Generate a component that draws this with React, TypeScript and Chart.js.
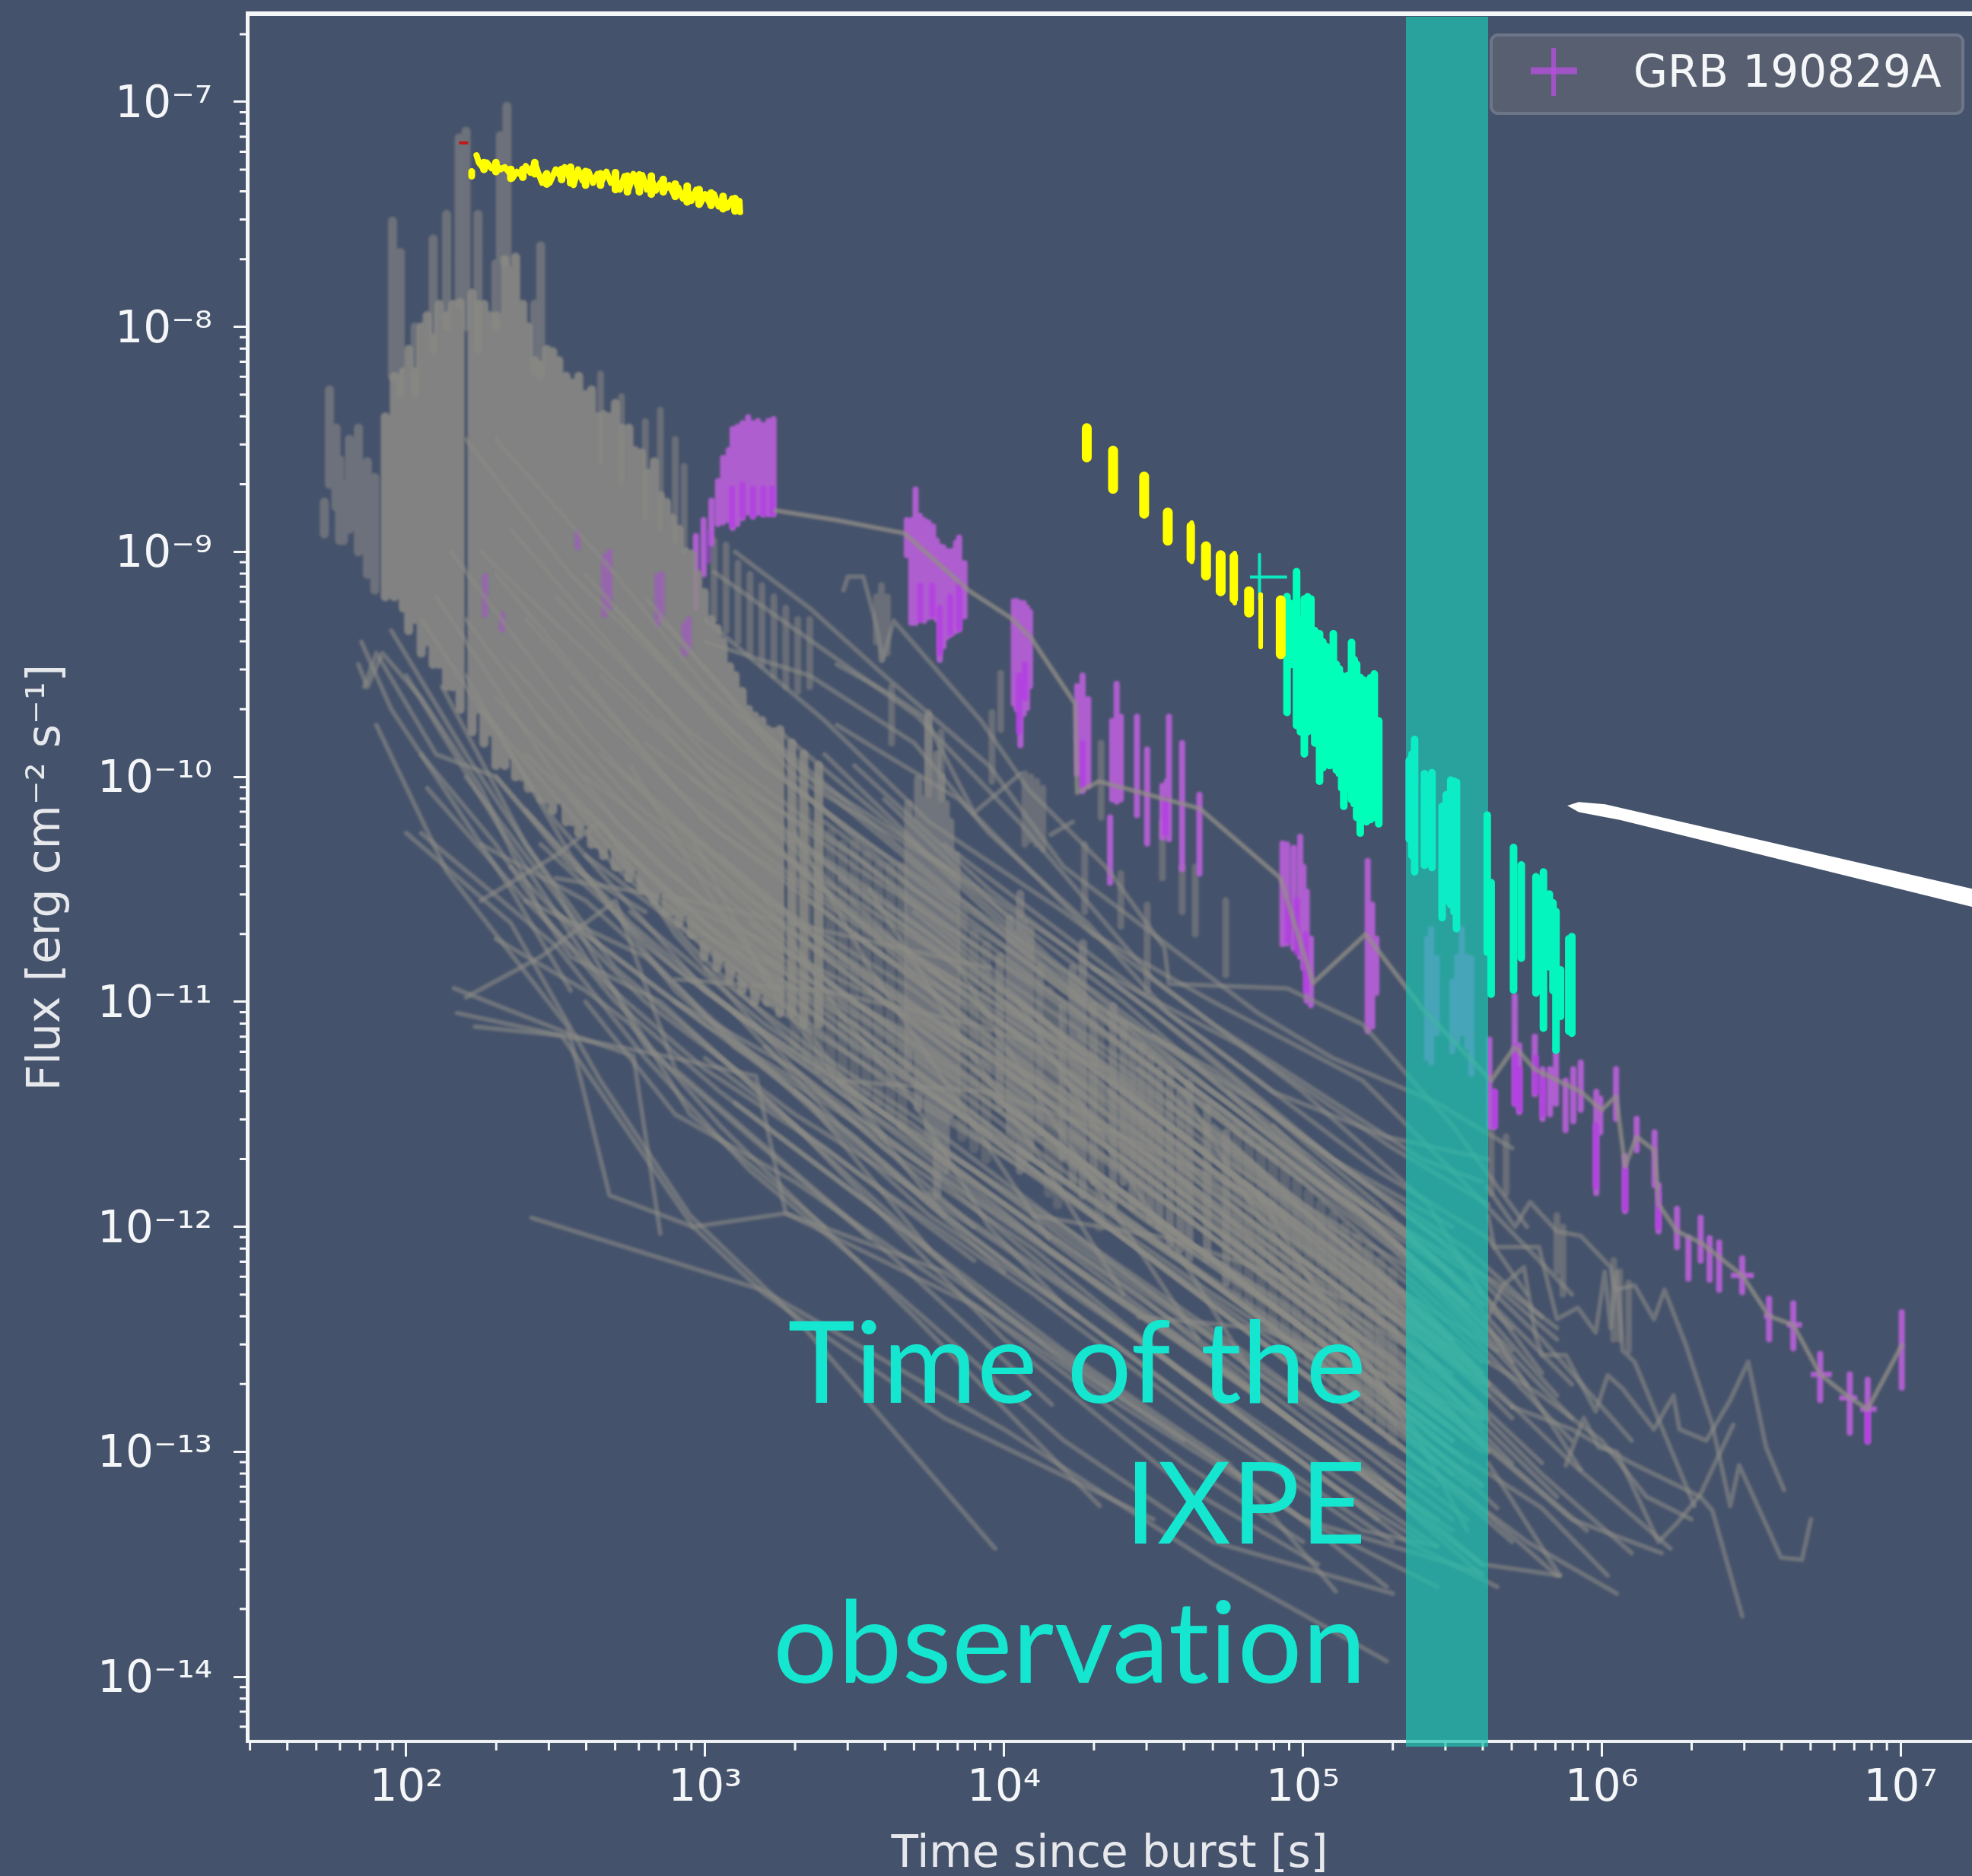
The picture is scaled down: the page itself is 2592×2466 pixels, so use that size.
import { useEffect, useRef } from 'react';
import { Chart, registerables } from 'chart.js';

Chart.register(...registerables);

// All values are log10(time [s]) and log10(flux).
const xTickExponents = [2, 3, 4, 5, 6, 7];
const xTickLabels = ['10²', '10³', '10⁴', '10⁵', '10⁶', '10⁷'];
const yTickExponents = [-7, -8, -9, -10, -11, -12, -13, -14];
const yTickLabels = ['10⁻⁷', '10⁻⁸', '10⁻⁹', '10⁻¹⁰', '10⁻¹¹', '10⁻¹²', '10⁻¹³', '10⁻¹⁴'];
const legendLabel = 'GRB 190829A';
const annotationLines = ['Time of the', 'IXPE', 'observation'];
const ixpeWindow = [5.345, 5.62];
const arrowOutline = [[5.885, -10.128], [5.923, -10.112], [6.012, -10.122], [7.239, -10.497], [7.239, -10.578], [6.063, -10.192], [5.923, -10.157]];

const yellowEarly = [2.235,-7.237, 2.243,-7.27, 2.255,-7.29, 2.27,-7.27, 2.285,-7.295, 2.30,-7.28, 2.315,-7.30, 2.33,-7.29, 2.345,-7.315, 2.355,-7.34, 2.37,-7.31, 2.385,-7.325, 2.40,-7.285, 2.415,-7.315, 2.43,-7.27, 2.44,-7.31, 2.455,-7.36, 2.465,-7.325, 2.48,-7.36, 2.50,-7.30, 2.515,-7.33, 2.53,-7.29, 2.545,-7.335, 2.56,-7.37, 2.575,-7.30, 2.59,-7.35, 2.61,-7.31, 2.625,-7.36, 2.64,-7.32, 2.655,-7.35, 2.67,-7.31, 2.685,-7.36, 2.70,-7.34, 2.715,-7.39, 2.73,-7.33, 2.745,-7.385, 2.76,-7.32, 2.775,-7.38, 2.79,-7.325, 2.805,-7.39, 2.82,-7.34, 2.835,-7.395, 2.85,-7.36, 2.865,-7.39, 2.88,-7.37, 2.895,-7.41, 2.91,-7.38, 2.925,-7.43, 2.94,-7.385, 2.955,-7.44, 2.97,-7.39, 2.985,-7.45, 3.0,-7.41, 3.015,-7.45, 3.03,-7.41, 3.045,-7.465, 3.06,-7.425, 3.075,-7.47, 3.09,-7.43, 3.105,-7.48, 3.115,-7.44, 3.117,-7.49];
const yellowEarlyFill = [[2.26,-7.27,-7.3],[2.3,-7.27,-7.31],[2.35,-7.3,-7.34],[2.39,-7.3,-7.335],[2.43,-7.27,-7.32],[2.47,-7.32,-7.365],[2.52,-7.3,-7.345],[2.55,-7.29,-7.36],[2.6,-7.31,-7.37],[2.65,-7.32,-7.37],[2.7,-7.315,-7.39],[2.74,-7.33,-7.4],[2.78,-7.325,-7.4],[2.82,-7.33,-7.41],[2.86,-7.345,-7.4],[2.9,-7.365,-7.42],[2.94,-7.375,-7.445],[2.98,-7.39,-7.455],[3.02,-7.405,-7.46],[3.06,-7.42,-7.475],[3.1,-7.43,-7.485]];
const yellowDot = [[2.219, -7.31, -7.33]];
const redMark = [2.177,-7.182, 2.207,-7.182];

const yellowBlobs = [[4.277,-8.45,-8.58],[4.365,-8.55,-8.72],[4.469,-8.665,-8.83],[4.548,-8.825,-8.95],[4.676,-8.975,-9.105],[4.725,-9.015,-9.175],[4.82,-9.175,-9.27],[4.926,-9.215,-9.455]];
const yellowThin = [[4.859,-9.19,-9.422],[4.628,-8.87,-9.044],[4.772,-9.005,-9.228]];

const cyanCross = [[4.855,-9.011,-9.21]];
const cyanCrossBar = [4.823,-9.112, 4.947,-9.112];
const cyanBright = [[4.947,-9.199,-9.714],[4.962,-9.23,-9.5],[4.979,-9.088,-9.772],[4.992,-9.3,-9.8],[5.005,-9.209,-9.898],[5.016,-9.2,-9.8],[5.027,-9.209,-9.752],[5.04,-9.35,-9.85],[5.056,-9.364,-10.02],[5.067,-9.4,-9.96],[5.078,-9.42,-9.927],[5.09,-9.43,-9.95],[5.102,-9.364,-9.947],[5.112,-9.5,-9.97],[5.122,-9.52,-9.986],[5.13,-9.55,-10.05],[5.137,-9.558,-10.131],[5.15,-9.55,-10.05],[5.163,-9.403,-10.102],[5.172,-9.48,-10.12],[5.18,-9.5,-10.18],[5.192,-9.558,-10.25],[5.203,-9.57,-10.18],[5.213,-9.578,-10.2],[5.226,-9.56,-10.19],[5.239,-9.543,-10.18],[5.254,-9.752,-10.209]];
const cyanInBand = [[5.356,-9.927,-10.277],[5.365,-9.9,-10.35],[5.374,-9.834,-10.422],[5.407,-9.986,-10.393],[5.432,-9.982,-10.403],[5.466,-10.131,-10.626],[5.48,-10.08,-10.55],[5.495,-10.015,-10.568],[5.506,-10.02,-10.6],[5.514,-10.024,-10.675]];
const cyanLate = [[5.617,-10.17,-10.78],[5.63,-10.47,-10.966],[5.705,-10.314,-10.948],[5.731,-10.392,-10.806],[5.78,-10.444,-10.961],[5.805,-10.423,-11.117],[5.825,-10.521,-10.845],[5.837,-10.56,-10.95],[5.847,-10.599,-11.215],[5.862,-10.858,-11.065],[5.89,-10.72,-11.13],[5.9,-10.71,-11.14]];

const purpleMain = [[2.969,-8.93,-9.25],[2.995,-8.859,-9.10],[3.021,-8.773,-8.963],[3.043,-8.686,-8.876],[3.06,-8.583,-8.868],[3.079,-8.548,-8.859],[3.092,-8.454,-8.893],[3.108,-8.445,-8.876],[3.125,-8.428,-8.85],[3.144,-8.402,-8.825],[3.16,-8.428,-8.842],[3.177,-8.419,-8.825],[3.194,-8.436,-8.833],[3.212,-8.419,-8.833],[3.229,-8.41,-8.833],
[3.675,-8.859,-9.015],[3.69,-8.86,-9.316],[3.704,-8.723,-9.316],[3.718,-8.84,-9.3],[3.733,-8.859,-9.306],[3.748,-8.87,-9.29],[3.763,-8.888,-9.287],[3.775,-8.95,-9.3],[3.785,-8.976,-9.48],[3.797,-8.98,-9.42],[3.807,-8.995,-9.38],[3.818,-9.0,-9.37],[3.828,-8.995,-9.36],[3.84,-8.96,-9.35],[3.85,-8.937,-9.345],[3.868,-9.05,-9.287],
[4.033,-9.219,-9.675],[4.043,-9.219,-9.70],[4.055,-9.228,-9.859],[4.066,-9.228,-9.72],[4.077,-9.248,-9.694],[4.087,-9.267,-9.597],
[4.245,-9.597,-9.986],[4.263,-9.55,-10.063],[4.282,-9.655,-10.04],[4.355,-10.18,-10.47],[4.362,-9.752,-10.10],[4.377,-9.587,-10.11],[4.391,-9.733,-10.10],
[4.445,-9.733,-10.17],[4.479,-9.879,-10.296],[4.53,-10.04,-10.27],[4.545,-10.02,-10.25],[4.552,-9.733,-10.277],[4.596,-9.85,-10.41],[4.654,-10.08,-10.43],
[4.932,-10.296,-10.743],[4.947,-10.3,-10.74],[4.969,-10.316,-10.762],[4.991,-10.267,-10.80],[5.002,-10.4,-10.85],[5.013,-10.51,-10.995],[5.027,-10.72,-11.015],
[5.217,-10.374,-11.13],[5.232,-10.568,-11.11],[5.246,-10.72,-10.96],
[5.416,-10.72,-11.25],[5.429,-10.677,-11.27],[5.448,-10.806,-11.14],[5.50,-10.91,-11.22],[5.516,-10.8,-11.18],[5.532,-10.677,-11.14],[5.55,-10.8,-11.2],[5.564,-10.806,-11.32],
[5.624,-11.168,-11.556],[5.641,-11.40,-11.556],[5.709,-10.974,-11.453],[5.724,-11.194,-11.49],[5.776,-11.155,-11.41],[5.802,-11.30,-11.52],[5.827,-11.30,-11.50],[5.847,-11.22,-11.453],[5.879,-11.35,-11.57],[5.905,-11.30,-11.53],[5.93,-11.27,-11.48],[5.982,-11.40,-11.85],[5.995,-11.43,-11.58],[6.048,-11.30,-11.52],[6.078,-11.686,-11.93],[6.117,-11.52,-11.66],[6.177,-11.58,-11.815],[6.19,-11.815,-12.02],[6.252,-11.92,-12.09],[6.29,-12.05,-12.23],[6.331,-11.96,-12.15],[6.361,-12.05,-12.235],[6.393,-12.07,-12.28],[6.47,-12.14,-12.29],[6.56,-12.32,-12.50],[6.641,-12.34,-12.54],[6.731,-12.565,-12.77],[6.83,-12.656,-12.915],[6.89,-12.68,-12.955],[7.004,-12.38,-12.715]];
const purpleBright = [[3.09,-8.72,-8.88],[3.125,-8.7,-8.84],[3.16,-8.72,-8.84],[3.195,-8.72,-8.83],[3.225,-8.72,-8.83],[3.72,-9.15,-9.3],[3.76,-9.15,-9.28],[3.785,-9.25,-9.45],[3.82,-9.2,-9.36],[3.85,-9.15,-9.34],[4.05,-9.55,-9.8],[4.07,-9.5,-9.65],[4.263,-9.85,-10.05],[4.54,-10.1,-10.25],[4.95,-10.55,-10.73],[4.98,-10.55,-10.78],[5.01,-10.7,-10.95],[5.642,-11.4,-11.55],[5.71,-11.2,-11.45],[5.725,-11.3,-11.48],[5.78,-11.25,-11.4],[5.803,-11.35,-11.5],[5.98,-11.55,-11.82],[6.078,-11.75,-11.92],[6.19,-11.85,-12.0],[6.89,-12.82,-12.95]];
const purpleCaps = [[6.432,-12.216,6.509],[6.543,-12.397,6.57],[6.62,-12.436,6.67],[6.70,-12.656,6.77],[6.795,-12.76,6.855],[6.865,-12.81,6.92]];
const purpleEarly = [[2.662,-9.02,-9.28],[2.84,-9.108,-9.324],[2.93,-9.324,-9.453],[3.011,-8.914,-9.04],[2.264,-9.108,-9.28],[2.321,-9.28,-9.345],[2.573,-8.914,-8.98],[2.68,-9.0,-9.25],[2.855,-9.1,-9.3],[2.945,-9.3,-9.44]];

const grbConnector = [3.235,-8.816, 3.441,-8.859, 3.668,-8.918, 3.88,-9.17, 4.026,-9.296, 4.091,-9.384, 4.238,-9.675, 4.245,-10.07, 4.318,-10.02, 4.654,-10.14, 4.925,-10.45, 5.034,-10.917, 5.21,-10.70, 5.40,-11.03, 5.63,-11.35, 5.709,-11.2, 5.776,-11.3, 5.93,-11.4, 6.0,-11.48, 6.048,-11.42, 6.078,-11.73, 6.117,-11.6, 6.177,-11.66, 6.19,-11.9, 6.252,-12.02, 6.331,-12.07, 6.47,-12.216, 6.56,-12.397, 6.641,-12.436, 6.731,-12.656, 6.83,-12.76, 6.89,-12.81, 7.004,-12.527];

const grayUpperDim = [[1.743,-8.28,-8.70],[1.765,-8.45,-8.8],[1.777,-8.59,-8.95],[1.726,-8.78,-8.92],[1.79,-8.7,-8.95],[1.81,-8.5,-8.9],[1.84,-8.45,-9.0],[1.87,-8.6,-9.1],[1.895,-8.67,-9.17],[1.954,-7.53,-8.22],[1.98,-7.67,-8.3],[2.03,-8.0,-8.3],[2.09,-7.61,-8.1],[2.135,-7.5,-8.0],[2.177,-7.16,-7.9],[2.2,-7.13,-8.0],[2.24,-7.5,-8.1],[2.315,-7.15,-7.7],[2.337,-7.02,-7.72],[2.3,-7.72,-8.0],[2.45,-7.64,-8.22],[2.43,-7.9,-8.2]];
const grayBarsSolid = [[1.93,-8.4,-9.2],[1.96,-8.22,-9.2],[1.99,-8.2,-9.25],[2.008,-8.1,-9.35],[2.03,-8.2,-9.3],[2.05,-8.0,-9.45],[2.07,-7.95,-9.4],[2.09,-8.05,-9.5],[2.11,-7.9,-9.5],[2.135,-7.95,-9.6],[2.155,-7.9,-9.6],[2.18,-7.89,-9.7],[2.22,-7.85,-9.8],[2.24,-7.9,-9.7],[2.26,-7.9,-9.85],[2.28,-7.95,-9.8],[2.30,-7.95,-9.95],[2.33,-7.7,-9.95],[2.35,-7.75,-9.9],[2.366,-7.69,-10.0],[2.39,-7.9,-10.0],[2.408,-8.0,-10.05],[2.43,-8.15,-10.05],[2.452,-8.17,-10.1],[2.47,-8.1,-10.1],[2.49,-8.11,-10.15],[2.51,-8.15,-10.1],[2.535,-8.22,-10.2],[2.555,-8.25,-10.2],[2.577,-8.22,-10.25],[2.6,-8.3,-10.2],[2.62,-8.28,-10.3],[2.64,-8.4,-10.3],[2.66,-8.39,-10.35],[2.68,-8.4,-10.3],[2.70,-8.34,-10.4],[2.72,-8.45,-10.4],[2.745,-8.45,-10.45],[2.765,-8.55,-10.4],[2.787,-8.56,-10.5],[2.81,-8.65,-10.5],[2.83,-8.6,-10.55],[2.85,-8.75,-10.5],[2.871,-8.78,-10.6],[2.89,-8.85,-10.6],[2.913,-8.9,-10.65],[2.935,-9.0,-10.6],[2.955,-9.01,-10.7],[2.975,-9.1,-10.7],[2.997,-9.18,-10.8],[3.02,-9.3,-10.75],[3.04,-9.34,-10.85],[3.06,-9.4,-10.8],[3.082,-9.51,-10.9],[3.1,-9.55,-10.85],[3.124,-9.62,-10.95],[3.145,-9.7,-10.9],[3.166,-9.73,-11.0],[3.19,-9.75,-10.95],[3.208,-9.79,-11.0],[3.23,-9.8,-11.0],[3.25,-9.79,-11.05],[3.29,-9.85,-11.05],[3.33,-9.9,-11.1],[3.38,-9.95,-11.1]];
const grayWash = [[3.3,-10.1,-11.2],[3.34,-10.15,-11.25],[3.38,-10.2,-11.3],[3.42,-10.25,-11.3],[3.46,-10.3,-11.35],[3.5,-10.3,-11.4],[3.54,-10.35,-11.4],[3.58,-10.4,-11.45],[3.62,-10.4,-11.5],[3.66,-10.4,-11.55],
[3.86,-10.6,-11.6],[3.9,-10.7,-11.65],[3.94,-10.75,-11.7],[4.15,-10.95,-11.85],[4.18,-11.0,-11.9],[4.32,-11.1,-12.0],
[4.78,-11.55,-12.3],[4.82,-11.6,-12.35],[4.86,-11.65,-12.4],[4.9,-11.7,-12.45],[4.94,-11.75,-12.5],[4.98,-11.8,-12.55],[5.02,-11.85,-12.6],[5.06,-11.9,-12.65],[5.1,-11.95,-12.7],[5.14,-12.0,-12.75],[5.18,-12.05,-12.8],[5.22,-12.1,-12.85],[5.26,-12.15,-12.9],[5.3,-12.2,-12.95]];
const grayTowers = [[3.68,-10.12,-11.30],[3.713,-10.01,-11.47],[3.747,-9.73,-11.58],[3.776,-9.9,-11.86],[3.805,-10.12,-11.75],[3.84,-10.35,-11.47],[3.69,-10.2,-11.2],[3.73,-10.1,-11.4],[3.76,-9.95,-11.6],[3.79,-10.0,-11.6],[3.82,-10.2,-11.5],
[3.986,-10.8,-11.47],[4.02,-10.63,-11.58],[4.054,-10.52,-11.75],[4.088,-10.68,-11.69],[4.12,-10.85,-11.58],[4.035,-10.7,-11.6],[4.07,-10.65,-11.7],
[4.197,-11.02,-11.69],[4.23,-10.85,-11.8],[4.264,-10.74,-11.86],[4.298,-11.02,-11.8],[4.245,-10.9,-11.7],
[4.365,-11.02,-11.91],[4.43,-11.19,-11.91],[4.49,-11.25,-11.97],[4.555,-11.30,-12.08],[4.62,-11.36,-12.14],[4.68,-11.47,-12.14],[4.744,-11.58,-12.25],[4.4,-11.1,-11.8],[4.46,-11.2,-11.9],[4.52,-11.3,-12.0],[4.59,-11.4,-12.1]];
const grayDimBars = [[2.65,-8.21,-8.6],[2.72,-8.31,-8.7],[2.80,-8.42,-8.85],[2.85,-8.37,-8.9],[2.9,-8.5,-8.95],[2.93,-8.62,-9.0],[3.03,-8.95,-9.3],[3.07,-8.97,-9.35],[3.11,-9.05,-9.4],[3.15,-9.1,-9.45],[3.19,-9.15,-9.5],[3.23,-9.2,-9.55],[3.27,-9.25,-9.6],[3.31,-9.3,-9.62],[3.35,-9.3,-9.6],
[3.573,-9.2,-9.4],[3.59,-9.15,-9.48],[3.61,-9.2,-9.45],[3.624,-9.6,-9.85],[3.748,-9.714,-10.08],[3.79,-9.8,-10.1],[3.96,-9.714,-10.02],[3.989,-9.54,-9.79],[4.07,-9.986,-10.3],[4.09,-10.0,-10.28],[4.11,-10.02,-10.3],[4.13,-10.05,-10.32],[4.325,-9.85,-10.18],[4.391,-10.43,-10.665],[4.27,-10.3,-10.6],[4.479,-10.57,-10.956],[4.53,-10.2,-10.45],[4.596,-10.4,-10.6],[4.64,-10.4,-10.7],[4.742,-10.55,-10.88],[5.85,-11.95,-12.2],[5.87,-12.0,-12.3],[6.04,-12.15,-12.5],[6.06,-12.2,-12.5],[6.09,-12.25,-12.55],[5.63,-11.55,-11.85],[5.68,-11.6,-11.85]];

const grayCurves = [
[2.3,-8.5, 2.7,-9.1, 3.0,-9.6, 3.35,-10.0, 3.7,-10.3, 4.1,-10.7, 4.4,-11.0, 5.0,-11.7, 5.5,-12.2],
[2.2,-8.5, 2.55,-9.1, 3.05,-9.75, 3.7,-10.5, 4.4,-11.1, 4.8,-11.6, 5.2,-11.95, 5.55,-12.35],
[2.35,-8.9, 3.0,-9.9, 3.5,-10.4, 4.2,-11.0, 4.7,-11.5, 5.3,-12.1, 5.6,-12.5],
[2.25,-9.0, 2.8,-9.7, 3.2,-10.3, 3.8,-10.8, 4.4,-11.4, 5.0,-12.0, 5.5,-12.5],
[2.3,-9.1, 2.9,-10.05, 3.3,-10.45, 3.7,-10.8, 4.3,-11.25, 5.05,-12.1, 5.55,-12.6],
[2.4,-9.3, 3.0,-10.2, 3.6,-10.8, 4.0,-11.1, 4.6,-11.65, 5.2,-12.3, 5.6,-12.7],
[2.15,-9.0, 2.6,-9.8, 3.1,-10.5, 3.6,-11.0, 4.2,-11.4, 4.9,-12.2, 5.45,-12.8],
[2.35,-9.5, 2.75,-10.1, 3.3,-10.7, 3.9,-11.2, 4.5,-11.8, 5.1,-12.4, 5.6,-12.85],
[2.2,-9.3, 2.7,-10.2, 3.2,-10.8, 3.7,-11.15, 4.3,-11.75, 4.95,-12.4, 5.5,-12.95],
[2.3,-9.65, 2.85,-10.4, 3.4,-10.95, 4.0,-11.5, 4.6,-12.05, 5.2,-12.6, 5.6,-13.0],
[2.1,-9.2, 2.5,-10.0, 3.0,-10.7, 3.5,-11.1, 4.1,-11.75, 4.7,-12.3, 5.35,-12.85],
[2.4,-9.9, 2.95,-10.6, 3.5,-11.2, 4.1,-11.7, 4.7,-12.25, 5.25,-12.8, 5.6,-13.15],
[2.25,-9.7, 2.7,-10.4, 3.2,-11.0, 3.8,-11.5, 4.4,-12.05, 5.0,-12.6, 5.5,-13.1],
[2.05,-9.3, 2.5,-10.2, 3.0,-10.95, 3.55,-11.45, 4.2,-12.0, 4.85,-12.6, 5.4,-13.15],
[2.3,-10.0, 2.8,-10.75, 3.3,-11.25, 3.9,-11.75, 4.5,-12.3, 5.1,-12.85, 5.55,-13.3],
[2.2,-10.0, 2.6,-10.7, 3.1,-11.2, 3.7,-11.7, 4.3,-12.25, 4.9,-12.8, 5.35,-13.25],
[2.5,-9.2, 2.95,-9.8, 3.4,-10.25, 3.9,-10.75, 4.5,-11.3, 5.1,-11.85, 5.6,-12.3],
[2.6,-9.1, 3.1,-9.85, 3.55,-10.3, 4.0,-10.7, 4.6,-11.35, 5.2,-11.95, 5.7,-12.55],
[2.7,-9.25, 3.2,-9.95, 3.7,-10.45, 4.2,-10.95, 4.75,-11.45, 5.3,-12.05, 5.75,-12.7],
[2.85,-9.3, 3.3,-9.95, 3.8,-10.5, 4.3,-10.95, 4.85,-11.5, 5.45,-12.15, 5.85,-12.75],
[2.55,-9.6, 3.05,-10.25, 3.5,-10.65, 4.1,-11.15, 4.7,-11.75, 5.25,-12.25, 5.7,-12.85],
[2.65,-9.9, 3.15,-10.5, 3.7,-10.95, 4.25,-11.5, 4.9,-12.1, 5.4,-12.55, 5.8,-13.05],
[2.75,-10.0, 3.25,-10.6, 3.85,-11.15, 4.4,-11.6, 5.0,-12.2, 5.5,-12.75, 5.85,-13.2],
[2.9,-10.2, 3.4,-10.75, 3.95,-11.25, 4.55,-11.8, 5.15,-12.4, 5.6,-12.95, 5.95,-13.35],
[2.6,-10.35, 3.1,-10.85, 3.65,-11.4, 4.2,-11.85, 4.8,-12.45, 5.35,-13.0, 5.7,-13.4],
[2.8,-10.5, 3.3,-11.0, 3.85,-11.5, 4.45,-12.0, 5.05,-12.6, 5.55,-13.15],
[2.45,-10.3, 2.9,-10.85, 3.45,-11.4, 4.0,-11.9, 4.6,-12.45, 5.2,-13.05, 5.6,-13.5],
[2.5,-10.6, 3.0,-11.1, 3.55,-11.55, 4.15,-12.1, 4.75,-12.65, 5.3,-13.2, 5.6,-13.55],
[2.35,-10.4, 2.8,-11.0, 3.3,-11.5, 3.9,-12.0, 4.5,-12.55, 5.1,-13.1, 5.45,-13.42],
[3.0,-9.95, 3.5,-10.35, 4.0,-10.9, 4.5,-11.35, 5.0,-11.9, 5.5,-12.3, 5.9,-12.85],
[3.1,-10.05, 3.6,-10.6, 4.1,-11.05, 4.6,-11.6, 5.1,-12.1, 5.65,-12.55],
[3.2,-10.2, 3.65,-10.75, 4.2,-11.2, 4.7,-11.7, 5.25,-12.3, 5.7,-12.8],
[3.3,-10.4, 3.8,-10.95, 4.3,-11.45, 4.85,-12.0, 5.35,-12.5, 5.8,-13.1, 6.1,-13.45],
[3.4,-10.2, 3.9,-10.7, 4.45,-11.25, 5.0,-11.8, 5.5,-12.4, 5.9,-12.95],
[3.5,-9.95, 3.95,-10.5, 4.5,-11.05, 5.0,-11.6, 5.45,-12.05, 5.8,-12.5, 6.1,-12.95],
[3.35,-10.75, 3.85,-11.25, 4.4,-11.75, 4.95,-12.3, 5.5,-12.85, 5.9,-13.3, 6.2,-13.45],
[3.25,-10.9, 3.75,-11.4, 4.3,-11.95, 4.85,-12.5, 5.4,-13.05, 5.75,-13.4, 6.05,-13.63],
[3.45,-11.1, 3.95,-11.6, 4.5,-12.15, 5.05,-12.7, 5.55,-13.2, 5.85,-13.55],
[3.0,-11.25, 3.5,-11.75, 4.1,-12.3, 4.65,-12.85, 5.2,-13.35, 5.45,-13.42],
[3.1,-11.45, 3.65,-12.0, 4.2,-12.55, 4.75,-13.05, 5.11,-13.62],
[2.05,-10.25, 2.5,-10.75, 2.8,-11.25, 3.15,-11.75, 3.6,-12.25, 4.2,-12.95, 4.7,-13.4, 5.3,-13.63],
[1.84,-9.5, 1.87,-9.6, 1.92,-9.45, 2.05,-9.65, 2.25,-10.05, 2.45,-10.6, 2.7,-11.0, 3.05,-11.4, 3.6,-11.95, 4.2,-12.6, 4.9,-13.2, 5.28,-13.6],
[1.9,-9.77, 2.135,-10.42, 2.54,-11.11, 2.68,-11.86, 2.96,-12.0, 3.27,-11.94, 3.8,-12.2, 4.4,-12.75, 5.0,-13.3, 5.6,-13.54],
[2.16,-10.94, 2.54,-11.14, 2.76,-11.24, 2.85,-12.03],
[2.17,-11.05, 2.52,-11.15, 2.96,-12.0, 3.2,-12.3, 3.8,-12.85, 4.5,-13.3],
[2.23,-11.11, 2.52,-11.15, 2.9,-11.25, 3.17,-11.33, 3.27,-11.94, 3.9,-12.35, 4.6,-13.05, 5.0,-13.4],
[2.42,-11.96, 3.19,-12.28, 4.0,-12.9, 4.7,-13.5, 5.28,-13.93],
[2.0,-10.25, 2.35,-10.65, 2.65,-11.35, 2.95,-11.95, 3.3,-12.4, 3.97,-13.43],
[2.3,-10.72, 2.6,-10.95, 2.75,-11.1, 3.05,-11.55, 3.7,-12.4, 4.32,-13.24],
[2.2,-10.98, 2.45,-10.8, 2.7,-10.55, 2.9,-11.3, 3.6,-12.1, 4.16,-12.79],
[2.25,-10.55, 2.5,-10.35, 2.65,-10.2, 2.9,-10.7, 3.3,-11.3, 3.9,-12.0],
[2.05,-9.9, 2.3,-10.3, 2.55,-10.8, 2.85,-11.0, 3.3,-11.55, 4.0,-12.5, 4.6,-13.15, 5.05,-13.5],
[2.6,-11.0, 2.9,-11.5, 3.3,-11.8, 3.85,-12.3, 4.4,-12.8, 5.0,-13.3, 5.45,-13.6],
[3.65,-11.55, 4.15,-12.1, 4.7,-12.6, 5.2,-13.1, 5.6,-13.5, 5.86,-13.55],
[3.75,-11.85, 4.3,-12.35, 4.85,-12.9, 5.35,-13.4, 5.65,-13.6],
[3.9,-11.3, 4.35,-11.85, 4.95,-12.4, 5.45,-12.95, 5.8,-13.25, 6.02,-13.55],
[4.0,-11.0, 4.55,-11.55, 5.05,-12.05, 5.55,-12.6, 5.9,-13.05, 6.23,-13.43],
[4.1,-10.85, 4.6,-11.35, 5.1,-11.85, 5.6,-12.4, 5.93,-13.08],
[4.2,-11.35, 4.7,-11.9, 5.15,-12.45, 5.6,-12.95],
[3.6,-10.1, 4.15,-10.8, 4.7,-11.4, 5.2,-11.9, 5.65,-12.25, 5.85,-12.45],
[3.8,-10.3, 4.25,-10.75, 4.75,-11.25, 5.25,-11.75, 5.62,-12.05, 5.75,-12.3],
[3.441,-9.50, 3.624,-9.636, 3.733,-9.733, 3.90,-10.16, 4.055,-9.986],
[4.157,-10.257, 4.23,-10.2],
[3.441,-9.77, 3.587,-9.888, 3.85,-10.1, 4.3,-10.7, 4.7,-11.0, 5.2,-11.35, 5.5,-11.75, 5.9,-12.3],
[3.463,-9.17, 3.478,-9.11, 3.529,-9.11, 3.573,-9.325, 3.594,-9.48, 3.631,-9.306, 3.923,-9.75, 4.084,-10.06, 4.347,-10.41, 4.537,-10.76, 4.552,-10.92, 4.947,-10.94, 5.2,-11.1, 5.5,-11.55, 5.75,-12.0],
[3.0,-9.4, 3.35,-9.55, 3.7,-9.85, 3.95,-10.25, 4.28,-10.65, 4.55,-11.05, 4.9,-11.4, 5.28,-11.6, 5.62,-11.7],
[3.1,-9.0, 3.35,-9.25, 3.6,-9.55, 3.95,-9.95, 4.2,-10.4, 4.5,-10.7, 4.85,-11.05, 5.1,-11.25, 5.45,-11.45, 5.7,-11.65],
[3.03,-9.09, 3.71,-9.73, 4.05,-10.2, 4.5,-10.9, 5.0,-11.4, 5.42,-11.9, 5.6,-12.3, 5.9,-12.7],
[3.0,-9.3, 3.4,-9.75, 3.75,-10.2, 4.2,-10.6, 4.7,-11.1, 5.4,-11.7, 5.6,-11.8],
[2.8,-9.2, 3.3,-10.0, 3.8,-10.4, 4.3,-11.0, 4.9,-11.5, 5.5,-12.1, 5.85,-12.5],
[4.3,-10.85, 4.8,-11.2, 5.3,-11.65, 5.62,-11.9],
[5.615,-11.82, 5.71,-12.0, 5.76,-11.89, 5.85,-12.02, 5.93,-12.04, 6.03,-12.18, 6.045,-12.28, 6.11,-12.26, 6.175,-12.41, 6.21,-12.28, 6.28,-12.52, 6.37,-12.88, 6.43,-13.24, 6.46,-13.06, 6.60,-13.47, 6.67,-13.48, 6.70,-13.30],
[5.62,-11.95, 5.64,-12.09, 5.79,-12.09, 5.85,-12.41, 5.92,-12.36, 5.98,-12.47, 6.01,-12.20, 6.03,-12.45, 6.05,-12.2, 6.07,-12.55, 6.11,-12.60, 6.31,-13.24],
[5.62,-12.4, 5.67,-12.26, 5.74,-12.18, 5.78,-12.49, 5.80,-12.57, 5.88,-12.57, 5.98,-12.82, 6.02,-12.66, 6.07,-12.72, 6.175,-12.90, 6.24,-12.75, 6.26,-12.90, 6.35,-12.95, 6.43,-12.77, 6.49,-12.60, 6.55,-12.98, 6.61,-13.17],
[5.88,-13.06, 5.94,-12.85, 5.99,-12.98, 6.05,-13.0, 6.19,-13.40, 6.25,-13.32, 6.33,-13.19, 6.44,-12.88],
[5.7,-12.8, 5.9,-12.9, 6.1,-13.05, 6.33,-13.2, 6.37,-13.26, 6.47,-13.73],
[5.62,-12.6, 5.8,-12.75, 6.0,-12.95, 6.15,-13.2, 6.3,-13.3],
[5.62,-13.05, 5.86,-13.55],
];

const grayCurvesCentral = [
[2.6,-10.0, 3.0,-10.4, 3.45,-10.95, 3.95,-11.4, 4.45,-11.95, 5.0,-12.45, 5.5,-12.95],
[2.7,-10.3, 3.05,-10.7, 3.55,-11.1, 4.05,-11.6, 4.55,-12.1, 5.05,-12.55, 5.45,-13.05],
[2.75,-10.6, 3.2,-11.1, 3.7,-11.55, 4.2,-12.05, 4.7,-12.5, 5.2,-13.0, 5.5,-13.3],
[2.55,-10.1, 2.95,-10.75, 3.35,-11.25, 3.8,-11.7, 4.3,-12.2, 4.85,-12.75, 5.3,-13.2],
[2.45,-9.75, 2.9,-10.35, 3.35,-10.85, 3.85,-11.35, 4.35,-11.85, 4.95,-12.35, 5.5,-12.9],
[2.65,-9.55, 3.05,-10.05, 3.55,-10.5, 4.05,-11.0, 4.55,-11.55, 5.15,-12.05, 5.6,-12.65],
[2.85,-9.75, 3.25,-10.25, 3.75,-10.7, 4.3,-11.25, 4.8,-11.75, 5.35,-12.35, 5.62,-12.7],
[2.95,-10.0, 3.4,-10.5, 3.9,-11.0, 4.35,-11.5, 4.85,-11.95, 5.4,-12.5, 5.62,-12.75],
[3.05,-10.35, 3.5,-10.85, 4.0,-11.35, 4.5,-11.85, 5.0,-12.35, 5.5,-12.85],
[3.15,-10.65, 3.6,-11.1, 4.1,-11.55, 4.6,-12.05, 5.1,-12.55, 5.55,-13.05],
[3.2,-10.8, 3.7,-11.3, 4.25,-11.85, 4.75,-12.3, 5.25,-12.75, 5.65,-13.25],
[3.35,-10.55, 3.85,-11.05, 4.35,-11.6, 4.9,-12.15, 5.4,-12.65, 5.7,-13.05],
[3.45,-10.45, 3.95,-10.95, 4.45,-11.5, 4.95,-12.0, 5.45,-12.55],
[3.5,-10.7, 4.0,-11.2, 4.55,-11.75, 5.05,-12.2, 5.5,-12.7],
[3.55,-10.95, 4.05,-11.45, 4.6,-11.95, 5.1,-12.45, 5.55,-12.95],
[3.6,-11.2, 4.1,-11.7, 4.65,-12.2, 5.15,-12.7, 5.6,-13.15],
[3.7,-10.6, 4.2,-11.15, 4.7,-11.6, 5.2,-12.15, 5.6,-12.6],
[3.75,-10.85, 4.25,-11.35, 4.8,-11.85, 5.3,-12.4, 5.62,-12.85],
[3.8,-11.1, 4.3,-11.6, 4.8,-12.1, 5.3,-12.6, 5.62,-13.0],
[3.9,-11.0, 4.4,-11.5, 4.9,-12.0, 5.4,-12.45, 5.62,-12.7],
[3.95,-11.4, 4.45,-11.9, 5.0,-12.45, 5.45,-12.9],
[4.05,-11.5, 4.55,-12.0, 5.05,-12.5, 5.5,-13.0],
[4.15,-11.25, 4.65,-11.8, 5.15,-12.3, 5.6,-12.8],
[4.25,-11.15, 4.75,-11.65, 5.25,-12.2, 5.6,-12.65],
[4.35,-11.4, 4.8,-11.95, 5.3,-12.45, 5.6,-12.9],
[4.45,-11.3, 4.9,-11.8, 5.35,-12.25, 5.62,-12.6],
[4.55,-11.45, 5.0,-11.95, 5.4,-12.35, 5.62,-12.7],
[4.6,-11.9, 5.05,-12.35, 5.45,-12.75, 5.62,-13.0],
[4.7,-11.55, 5.1,-12.05, 5.5,-12.5],
[4.8,-11.8, 5.2,-12.25, 5.55,-12.65],
[2.4,-10.15, 2.75,-10.65, 3.1,-11.05, 3.45,-11.55, 3.9,-12.05, 4.4,-12.55, 4.9,-13.05],
[2.2,-9.55, 2.55,-10.35, 2.9,-10.95, 3.25,-11.35, 3.75,-11.95, 4.25,-12.4],
[2.12,-9.6, 2.4,-10.3, 2.7,-10.85, 3.1,-11.3, 3.5,-11.8, 4.0,-12.4, 4.6,-12.95],
[2.0,-9.55, 2.3,-10.2, 2.65,-10.9, 3.0,-11.3, 3.4,-11.65, 3.9,-12.15],
[1.95,-9.35, 2.2,-9.9, 2.5,-10.5, 2.8,-11.2, 3.15,-11.6, 3.55,-12.05],
[2.07,-10.05, 2.4,-10.55, 2.7,-10.95, 2.95,-11.5, 3.4,-12.0],
[2.25,-10.3, 2.6,-10.55, 2.85,-10.85, 3.1,-11.2, 3.5,-11.6, 4.0,-12.2],
[2.4,-10.55, 2.8,-10.8, 3.0,-11.05, 3.35,-11.45, 3.75,-12.1],
[1.85,-9.4, 1.95,-9.7, 2.15,-10.1, 2.35,-10.5, 2.55,-10.95],
[1.86,-9.6, 1.9,-9.45, 2.1,-9.9, 2.3,-10.0, 2.55,-10.4, 2.8,-10.6],
[2.9,-10.55, 3.15,-10.7, 3.6,-11.0, 4.1,-11.4, 4.6,-11.9, 5.15,-12.5],
[3.0,-10.85, 3.35,-11.2, 3.8,-11.6, 4.3,-12.1, 4.85,-12.65, 5.45,-13.15],
[3.1,-11.05, 3.5,-11.4, 3.95,-11.85, 4.45,-12.3, 5.0,-12.9, 5.5,-13.35],
[3.2,-11.2, 3.6,-11.65, 4.1,-12.1, 4.6,-12.65, 5.1,-13.15, 5.4,-13.4],
[3.3,-11.4, 3.75,-11.9, 4.25,-12.4, 4.8,-12.95, 5.3,-13.4],
[3.4,-11.35, 3.85,-11.8, 4.35,-12.3, 4.95,-12.85, 5.45,-13.3],
[2.9,-11.0, 3.3,-11.3, 3.75,-11.75, 4.2,-12.25, 4.7,-12.75, 5.25,-13.3],
[2.8,-9.85, 3.15,-10.2, 3.6,-10.75, 4.0,-11.25, 4.5,-11.7, 5.05,-12.3, 5.5,-12.65],
[3.15,-9.75, 3.55,-10.2, 3.95,-10.65, 4.4,-11.15, 4.9,-11.65, 5.4,-12.2, 5.7,-12.6],
[3.25,-9.8, 3.7,-10.3, 4.15,-10.85, 4.6,-11.3, 5.15,-11.85, 5.55,-12.2, 5.8,-12.65],
[3.4,-9.9, 3.75,-10.35, 4.2,-10.75, 4.65,-11.2, 5.1,-11.7, 5.5,-12.0],
[4.35,-11.05, 4.7,-11.3, 5.15,-11.75, 5.55,-12.1, 5.8,-12.4],
[4.5,-11.15, 4.85,-11.45, 5.25,-11.9, 5.6,-12.35],
[4.75,-11.4, 5.05,-11.75, 5.4,-12.1, 5.7,-12.45],
[4.9,-11.55, 5.25,-12.0, 5.55,-12.35],
];

const grayCurvesCrossing = [
[3.3,-10.25, 3.55,-10.85, 3.8,-11.35, 4.15,-12.05],
[3.55,-10.5, 3.85,-11.15, 4.1,-11.65, 4.4,-12.3],
[3.85,-10.85, 4.1,-11.4, 4.4,-12.0, 4.65,-12.5],
[4.05,-11.0, 4.35,-11.65, 4.6,-12.15, 4.85,-12.7],
[2.95,-10.25, 3.2,-10.9, 3.5,-11.45, 3.8,-11.95],
[2.75,-9.95, 3.05,-10.6, 3.3,-11.05, 3.6,-11.6],
[2.5,-10.45, 2.95,-10.55, 3.45,-10.7, 3.95,-10.85],
[2.9,-10.9, 3.4,-10.95, 3.9,-11.1, 4.35,-11.3],
[3.45,-11.35, 3.95,-11.4, 4.4,-11.6, 4.9,-11.9],
[4.1,-11.95, 4.55,-12.05, 5.0,-12.25, 5.4,-12.45],
[4.45,-12.4, 4.85,-12.45, 5.25,-12.65, 5.6,-12.85],
[4.6,-11.4, 4.85,-11.95, 5.1,-12.35, 5.35,-12.9],
[4.85,-11.85, 5.1,-12.4, 5.35,-12.85, 5.55,-13.35],
[3.2,-10.55, 3.45,-11.05, 3.7,-11.45, 3.95,-12.0, 4.2,-12.35],
];

const toPoints = (flat: number[]) => {
  const out: { x: number; y: number }[] = [];
  for (let i = 0; i < flat.length; i += 2) out.push({ x: 10 ** flat[i], y: 10 ** flat[i + 1] });
  return out;
};
const toBars = (rows: number[][]) =>
  rows.flatMap(([t, a, b]) => [
    { x: 10 ** t, y: 10 ** a },
    { x: 10 ** t, y: 10 ** b },
    { x: 10 ** t, y: null as number | null },
  ]);
const toCaps = (rows: number[][]) =>
  rows.flatMap(([a, f, b]) => [
    { x: 10 ** a, y: 10 ** f },
    { x: 10 ** b, y: 10 ** f },
    { x: 10 ** b, y: null as number | null },
  ]);

const GRAY = 'rgba(140,139,135,0.58)';
const layer = (label: string, data: any[], color: string, width: number, cap = 'round') => ({
  label, data, borderColor: color, borderWidth: width, showLine: true, pointRadius: 0, tension: 0,
  borderCapStyle: cap, borderJoinStyle: 'round', spanGaps: false, fill: false,
});

const buildLayers = () => {
  const purple = 'rgba(186,95,218,0.9)';
  const layers: any[] = [
    layer('gray dim', toBars(grayDimBars), 'rgba(128,128,128,0.6)', 9),
    layer('purple', toBars(purpleMain), purple, 8, 'butt'),
    layer('purple bright', toBars(purpleBright), 'rgba(180,60,228,0.8)', 8, 'butt'),
    layer('gray upper', toBars(grayUpperDim), 'rgba(132,132,132,0.62)', 12),
    layer('gray solid', toBars(grayBarsSolid), 'rgba(138,137,133,0.86)', 12),
    layer('gray wash', toBars(grayWash), 'rgba(135,134,130,0.38)', 13),
    layer('gray towers', toBars(grayTowers), 'rgba(140,139,135,0.6)', 11),
    layer('purple early', toBars(purpleEarly), 'rgba(178,70,226,0.45)', 8, 'butt'),
    ...grayCurves.map((c, i) => layer('gray a' + i, toPoints(c), GRAY, 6)),
    ...grayCurvesCentral.map((c, i) => layer('gray b' + i, toPoints(c), GRAY, 6)),
    ...grayCurvesCrossing.map((c, i) => layer('gray c' + i, toPoints(c), GRAY, 6)),
    layer('purple caps', toCaps(purpleCaps), purple, 7, 'butt'),
    layer('connector', toPoints(grbConnector), 'rgba(145,143,135,0.75)', 6),
    layer('cyan bright', toBars(cyanBright), '#00ffb8', 10),
    layer('cyan band', toBars(cyanInBand), '#0cecc6', 10),
    layer('cyan late', toBars(cyanLate), '#04f5bd', 10),
    layer('cyan cross', toBars(cyanCross), '#0ce8c0', 4, 'butt'),
    layer('cyan cross bar', toPoints(cyanCrossBar), '#0ce8c0', 4, 'butt'),
    layer('yellow early', toPoints(yellowEarly), '#ffff00', 8),
    layer('yellow fill', toBars(yellowEarlyFill), '#ffff00', 10),
    layer('yellow dot', toBars(yellowDot), '#ffff00', 9),
    layer('yellow blobs', toBars(yellowBlobs), '#ffff00', 13),
    layer('yellow thin', toBars([[4.625,-8.885,-9.03],[4.769,-9.02,-9.21]]), '#ffff00', 11),
    layer('yellow line', toBars(yellowThin), '#ffff00', 6),
    layer('red', toPoints(redMark), '#c01818', 4, 'butt'),
  ];
  layers.forEach((d, i) => { d.order = layers.length - i; });
  return layers;
};

const SOFT = /^(gray|purple|connector)/;

const decorations = {
  id: 'decorations',
  beforeDatasetsDraw(chart: any) {
    const { ctx, chartArea: a, scales: { x, y } } = chart;
    ctx.save();
    ctx.strokeStyle = '#f4f6f8';
    ctx.lineCap = 'butt';
    ctx.lineWidth = 6;
    ctx.beginPath();
    ctx.moveTo(a.left - 2, a.top);
    ctx.lineTo(a.right, a.top);
    ctx.stroke();
    ctx.lineWidth = 3;
    ctx.beginPath();
    for (let d = 1; d <= 7; d++) for (let m = 2; m <= 9; m++) {
      const v = m * 10 ** d;
      if (v < x.min || v > x.max) continue;
      const p = x.getPixelForValue(v);
      ctx.moveTo(p, a.bottom);
      ctx.lineTo(p, a.bottom + 12);
    }
    for (let d = -15; d <= -7; d++) for (let m = 2; m <= 9; m++) {
      const v = m * 10 ** d;
      if (v < y.min || v > y.max) continue;
      const p = y.getPixelForValue(v);
      ctx.moveTo(a.left, p);
      ctx.lineTo(a.left - 10, p);
    }
    ctx.stroke();
    ctx.restore();
  },
  beforeDatasetDraw(chart: any, args: any) {
    const label = chart.data.datasets[args.index].label;
    const { ctx, chartArea: a, scales: { x } } = chart;
    ctx.filter = 'none';
    if (label === 'cyan bright') {
      const l = x.getPixelForValue(10 ** ixpeWindow[0]);
      const r = x.getPixelForValue(10 ** ixpeWindow[1]);
      ctx.save();
      ctx.fillStyle = 'rgba(31,192,176,0.72)';
      ctx.fillRect(l, a.top + 4, r - l, a.bottom - a.top + 3);
      ctx.restore();
    }
    if (SOFT.test(label)) ctx.filter = 'blur(1.4px)';
  },
  afterDatasetDraw(chart: any) {
    chart.ctx.filter = 'none';
  },
  afterDatasetsDraw(chart: any) {
    const { ctx, scales: { x, y } } = chart;
    ctx.save();
    ctx.filter = 'none';
    // white pointer
    ctx.fillStyle = '#ffffff';
    ctx.beginPath();
    arrowOutline.forEach(([t, f], i) => {
      const px = x.getPixelForValue(10 ** t);
      const py = y.getPixelForValue(10 ** f);
      if (i === 0) ctx.moveTo(px, py); else ctx.lineTo(px, py);
    });
    ctx.closePath();
    ctx.fill();
    // annotation
    ctx.fillStyle = '#14e6d0';
    ctx.font = '150px Lato';
    ctx.letterSpacing = '0.4px';
    ctx.textAlign = 'right';
    ctx.textBaseline = 'alphabetic';
    [1844, 2029, 2212].forEach((base, i) => ctx.fillText(annotationLines[i], 1796, base));
    ctx.letterSpacing = '0px';
    // legend
    ctx.fillStyle = 'rgba(120,120,120,0.35)';
    ctx.strokeStyle = '#6d7689';
    ctx.lineWidth = 4;
    ctx.beginPath();
    ctx.roundRect(1960, 46, 620, 103, 9);
    ctx.fill();
    ctx.stroke();
    ctx.strokeStyle = 'rgba(186,80,226,0.75)';
    ctx.lineWidth = 6;
    ctx.beginPath();
    ctx.moveTo(2042, 63);
    ctx.lineTo(2042, 126);
    ctx.stroke();
    ctx.lineWidth = 9;
    ctx.beginPath();
    ctx.moveTo(2012, 93);
    ctx.lineTo(2073, 93);
    ctx.stroke();
    ctx.fillStyle = '#f4f6f8';
    ctx.font = '58px "DejaVu Sans"';
    ctx.textAlign = 'left';
    ctx.textBaseline = 'alphabetic';
    ctx.fillText(legendLabel, 2147, 114);
    ctx.restore();
  },
};

export default function App() {
  const ref = useRef<HTMLCanvasElement>(null);
  useEffect(() => {
    const chart = new Chart(ref.current as HTMLCanvasElement, {
      type: 'scatter',
      data: { datasets: buildLayers() },
      plugins: [decorations],
      options: {
        animation: false,
        responsive: false,
        devicePixelRatio: 1,
        layout: { padding: { top: 18, right: 0, left: 0, bottom: 0 } },
        plugins: { legend: { display: false }, tooltip: { enabled: false } },
        scales: {
          x: {
            type: 'logarithmic',
            min: 10 ** 1.468,
            max: 10 ** 7.239,
            afterBuildTicks: (s: any) => { s.ticks = xTickExponents.map((e) => ({ value: 10 ** e, major: true })); },
            afterFit: (s: any) => { s.height = 177; s.paddingLeft = 0; s.paddingRight = 0; },
            border: { color: '#eef1f4', width: 4 },
            grid: { drawOnChartArea: false, color: '#f4f6f8', tickLength: 20, tickWidth: 3 },
            ticks: {
              autoSkip: false, maxRotation: 0, color: '#f4f6f8', padding: 8,
              font: { family: '"DejaVu Sans"', size: 58 },
              callback: (_v: any, i: number) => xTickLabels[i],
            },
            title: { display: true, text: 'Time since burst [s]', color: '#e6e8ec', font: { family: '"DejaVu Sans"', size: 58 }, padding: { top: 0, bottom: -8 } },
          },
          y: {
            type: 'logarithmic',
            min: 10 ** -14.287,
            max: 10 ** -6.608,
            afterBuildTicks: (s: any) => { s.ticks = yTickExponents.map((e) => ({ value: 10 ** e, major: true })); },
            afterFit: (s: any) => { s.width = 325; s.paddingTop = 0; s.paddingBottom = 0; },
            border: { color: '#f4f6f8', width: 5 },
            grid: { drawOnChartArea: false, color: '#f4f6f8', tickLength: 18, tickWidth: 3 },
            ticks: {
              autoSkip: false, color: '#f4f6f8', padding: 28, labelOffset: 5,
              font: { family: '"DejaVu Sans"', size: 58 },
              callback: (_v: any, i: number) => yTickLabels[i],
            },
            title: { display: true, text: 'Flux [erg cm⁻² s⁻¹]', color: '#e6e8ec', font: { family: '"DejaVu Sans"', size: 60 }, padding: { top: 26, bottom: 0 } },
          },
        },
      },
    } as any);
    return () => chart.destroy();
  }, []);
  return (
    <canvas
      ref={ref}
      width={2592}
      height={2466}
      style={{ position: 'absolute', left: 0, top: 0, width: 2592, height: 2466, background: '#45526b', display: 'block' }}
    />
  );
}
